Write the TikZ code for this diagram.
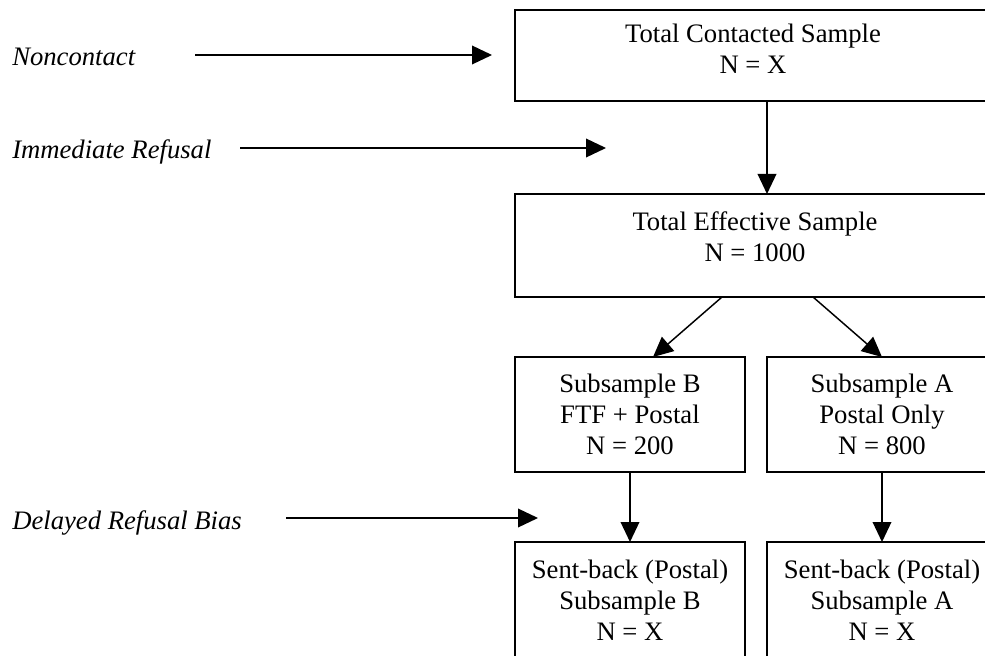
\documentclass[tikz,border=0pt]{standalone}
\usepackage{fontspec}
\setmainfont{Liberation Serif}
\usetikzlibrary{arrows.meta}
\begin{document}
\begin{tikzpicture}[x=0.75pt,y=-0.75pt,
  box/.style={draw, line width=1.1pt, rectangle, inner sep=0pt, outer sep=0pt},
  txt/.style={align=center, inner sep=0pt, font=\fontsize{20}{23.3}\selectfont},
  lbl/.style={inner sep=0pt, anchor=base west, font=\fontsize{20}{23.3}\selectfont\itshape},
  arr/.style={line width=1.1pt, -{Triangle[length=15pt,width=14pt]}}]
\useasboundingbox (0,0) rectangle (985,656);
\clip (0,0) rectangle (985,656);
% boxes
\node[box, minimum width=357pt, minimum height=68.25pt] (tc) at (753,55.5) {};
\node[box, minimum width=360pt, minimum height=77.25pt] (eff) at (755,245.5) {};
\node[box, minimum width=172.5pt, minimum height=86.25pt] (subB) at (630,414.5) {};
\node[box, minimum width=172.5pt, minimum height=86.25pt] (subA) at (882,414.5) {};
\node[box, minimum width=172.5pt, minimum height=133.5pt] (sbB) at (630,631) {};
\node[box, minimum width=172.5pt, minimum height=133.5pt] (sbA) at (882,631) {};
% texts
\node[txt] (tct) at (753,49) {Total Contacted Sample\\N = X};
\node[txt] (efft) at (755,237) {Total Effective Sample\\N = 1000};
\node[txt] (subBt) at (630,414) {Subsample B\\FTF + Postal\\N = 200};
\node[txt] (subAt) at (882,414) {Subsample A\\Postal Only\\N = 800};
\node[txt] (sbBt) at (630,600) {Sent-back (Postal)\\Subsample B\\N = X};
\node[txt] (sbAt) at (882,600) {Sent-back (Postal)\\Subsample A\\N = X};
% connectors
\draw[arr] ([xshift=10.5pt]tc.south) -- ([xshift=9pt]eff.north);
\draw[arr] ([xshift=-24.75pt]eff.south) -- ([xshift=17.25pt]subB.north);
\draw[arr] ([xshift=43.5pt]eff.south) -- (subA.north);
\draw[arr] (subB.south) -- (sbB.north);
\draw[arr] (subA.south) -- (sbA.north);
% side labels
\node[lbl] (nc) at (12,66) {Noncontact};
\node[lbl] (ir) at (12,159) {Immediate Refusal};
\node[lbl] (dr) at (12,529) {Delayed Refusal Bias};
\coordinate (nc1) at (195,55);
\coordinate (nc2) at (492,55);
\coordinate (ir1) at (240,148);
\coordinate (ir2) at (606,148);
\coordinate (dr1) at (286,518);
\coordinate (dr2) at (538,518);
\draw[arr] (nc1) -- (nc2);
\draw[arr] (ir1) -- (ir2);
\draw[arr] (dr1) -- (dr2);
\end{tikzpicture}
\end{document}
